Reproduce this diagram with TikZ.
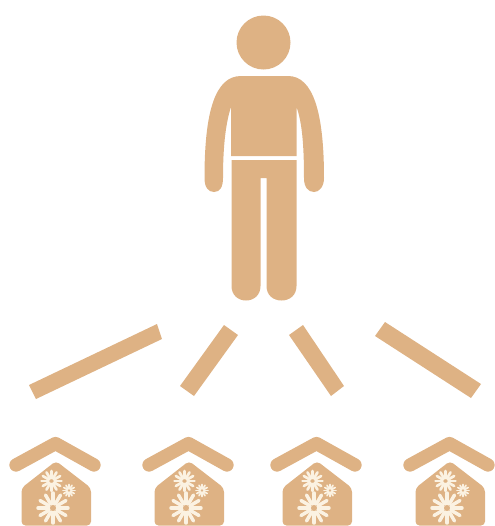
\documentclass[tikz,border=0pt]{standalone}
\definecolor{tan}{HTML}{DEB284}
\definecolor{cream}{HTML}{FBF2E2}
\tikzset{
  figure/.style={fill=tan,draw=none},
  bar/.style={fill=tan,draw=none},
  petal/.style={draw=cream,line cap=round},
  pics/flower/.style n args={2}{code={
    \foreach \a in {0,30,...,330}
      \draw[petal,line width=#2] (\a:#1*0.3) -- (\a:#1);
  }},
  pics/house/.style={code={
    \draw[tan,line width=10pt,line cap=round,line join=round] (16,465) -- (55.5,443.5) -- (94,465);
    \fill[tan,rounded corners=3pt] (21.5,488) -- (56,461) -- (91,488) -- (91,525.5) -- (21.5,525.5) -- cycle;
    \pic at (51.5,481) {flower={10}{2pt}};
    \pic at (69,490.5) {flower={6}{1.3pt}};
    \pic at (53,508) {flower={15}{2.6pt}};
  }}
}
\begin{document}
\begin{tikzpicture}[x=0.75pt,y=-0.75pt]
\useasboundingbox (0,0) rectangle (495,526);
% person
\fill[figure] (263.5,42.5) circle[radius=27*0.75pt];
\fill[figure] (241,76) -- (288,76)
  .. controls (313,76) and (324,112) .. (324,178)
  .. controls (324,187) and (319,192) .. (314,192)
  .. controls (308,192) and (304,187) .. (304,178)
  .. controls (304,145) and (302,122) .. (296.5,107)
  -- (296.5,156) -- (231,156) -- (231,107)
  .. controls (226,122) and (223,145) .. (223,178)
  .. controls (223,187) and (220,192) .. (214,192)
  .. controls (208,192) and (204.5,187) .. (204.5,178)
  .. controls (204.5,112) and (215,76) .. (241,76) -- cycle;
\fill[figure] (231.5,160) -- (296.5,160) -- (296.5,286)
  .. controls (296.5,295) and (290,300.5) .. (281.5,300.5)
  .. controls (273,300.5) and (266.5,295) .. (266.5,286)
  -- (266.5,178) -- (260.5,178) -- (260.5,286)
  .. controls (260.5,295) and (254,300.5) .. (246,300.5)
  .. controls (238,300.5) and (231.5,295) .. (231.5,286) -- cycle;
% bars
\fill[bar] (29,385) -- (157,324) -- (162,339) -- (36,399) -- cycle;
\fill[bar] (224,325) -- (238,335) -- (194,396) -- (180,386) -- cycle;
\fill[bar] (303,325) -- (289,335) -- (331,396) -- (344,386) -- cycle;
\fill[bar] (385,322) -- (375,336) -- (471,398) -- (481,384) -- cycle;
% houses
\pic at (0,0) {house};
\pic at (133,0) {house};
\pic at (261,0) {house};
\pic at (394,0) {house};
\end{tikzpicture}
\end{document}
